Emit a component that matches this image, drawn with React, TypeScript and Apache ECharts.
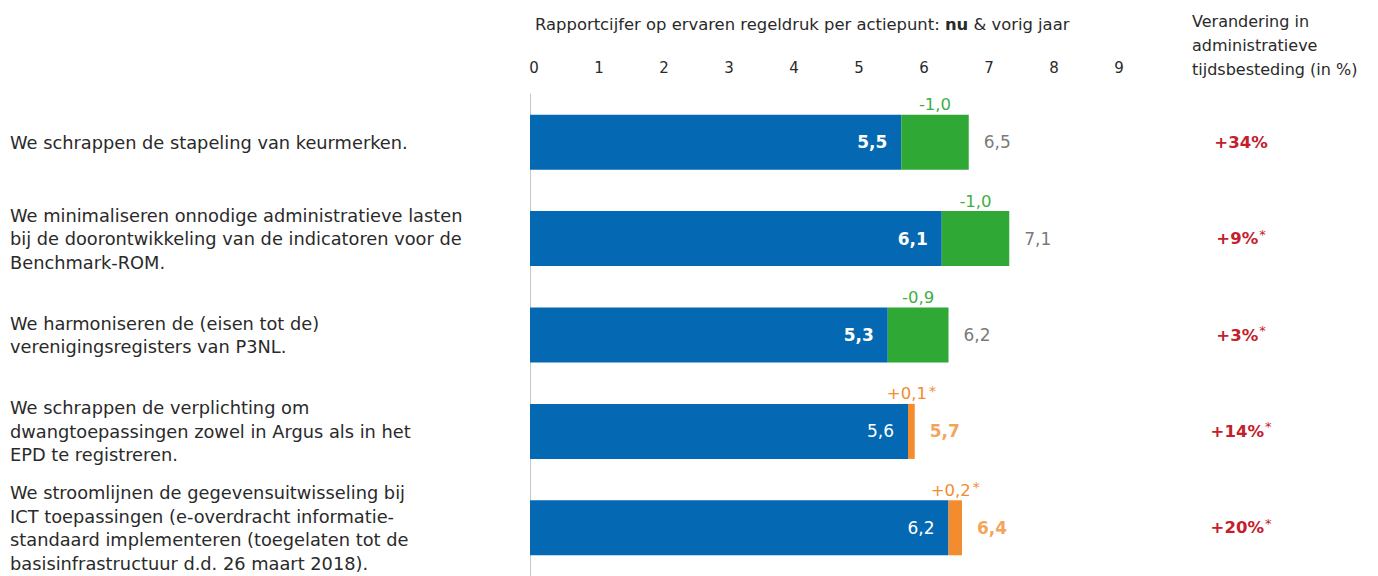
import React, { useEffect, useRef } from "react";
import * as echarts from "echarts";

const categories = [
  "We schrappen de stapeling van keurmerken.",
  "We minimaliseren onnodige administratieve lasten\nbij de doorontwikkeling van de indicatoren voor de\nBenchmark-ROM.",
  "We harmoniseren de (eisen tot de)\nverenigingsregisters van P3NL.",
  "We schrappen de verplichting om\ndwangtoepassingen zowel in Argus als in het\nEPD te registreren.",
  "We stroomlijnen de gegevensuitwisseling bij\nICT toepassingen (e-overdracht informatie-\nstandaard implementeren (toegelaten tot de\nbasisinfrastructuur d.d. 26 maart 2018).",
];
const baseValues = [5.5, 6.1, 5.3, 5.6, 6.2];
const deltaValues = [1.0, 1.0, 0.9, 0.1, 0.2];
const totalValues = [6.5, 7.1, 6.2, 5.7, 6.4];
const deltaLabels = ["-1,0", "-1,0", "-0,9", "+0,1", "+0,2"];
const deltaStar = [false, false, false, true, true];
const improved = [false, false, false, true, true];
const pctLabels = ["+34%", "+9%", "+3%", "+14%", "+20%"];
const pctStar = [false, true, true, true, true];
const tickValues = [0, 1, 2, 3, 4, 5, 6, 7, 8, 9];

const BLUE = "#0469b2";
const GREEN = "#2fa836";
const GREEN_TXT = "#3fae45";
const ORANGE = "#f28c2e";
const RED = "#c3202b";
const GRAY = "#555555";
const DARK = "#2a2a2a";
const FONT = "'DejaVu Sans', 'Liberation Sans', Arial, sans-serif";

const fmt = (v: number) => v.toFixed(1).replace(".", ",");

export default function App() {
  const ref = useRef<HTMLDivElement>(null);
  useEffect(() => {
    if (!ref.current) return;
    const chart = echarts.init(ref.current, undefined, { renderer: "svg" });
    chart.setOption({
      animation: false,
      textStyle: { fontFamily: FONT },
      title: {
        left: 530,
        top: 11,
        text: "{a|Rapportcijfer op ervaren regeldruk per actiepunt: }{b|nu}{a| & vorig jaar}",
        textStyle: {
          fontWeight: "normal",
          rich: {
            a: { fontSize: 16.4, color: DARK, fontWeight: "normal", fontFamily: FONT },
            b: { fontSize: 16.4, color: DARK, fontWeight: "bold", fontFamily: FONT },
          },
        },
      },
      graphic: [
        {
          type: "text",
          left: 1192,
          top: 9,
          style: {
            text: "Verandering in\nadministratieve\ntijdsbesteding (in %)",
            fontSize: 16,
            lineHeight: 24,
            fill: DARK,
            fontFamily: FONT,
          },
        },
      ],
      grid: [
        { left: 530, top: 94, width: 675, height: 484 },
        { left: 534, top: 78, width: 585, height: 1 },
      ],
      xAxis: [
        {
          gridIndex: 0,
          type: "value",
          min: 0,
          max: 10,
          show: false,
        },
        {
          gridIndex: 1,
          type: "value",
          position: "top",
          min: 0,
          max: 9,
          interval: 1,
          axisLine: { show: false },
          axisTick: { show: false },
          splitLine: { show: false },
          axisLabel: {
            margin: 3,
            fontSize: 15,
            color: DARK,
            fontFamily: FONT,
            formatter: (v: number) => (tickValues.includes(v) ? String(v) : ""),
          },
        },
      ],
      yAxis: [
        {
          gridIndex: 0,
          type: "category",
          inverse: true,
          data: categories,
          axisLine: { show: true, lineStyle: { color: "#c8c8c8", width: 1 } },
          axisTick: { show: false },
          axisLabel: {
            align: "left",
            margin: 520,
            fontSize: 17.8,
            lineHeight: 23.5,
            color: DARK,
            fontFamily: FONT,
          },
        },
        {
          gridIndex: 0,
          type: "category",
          inverse: true,
          position: "right",
          data: categories,
          axisLine: { show: false },
          axisTick: { show: false },
          axisLabel: {
            align: "center",
            margin: 36,
            formatter: (_v: string, i: number) =>
              `{p|${pctLabels[i]}}` + (pctStar[i] ? "{s|*}" : ""),
            rich: {
              p: { fontSize: 16.5, fontWeight: "bold", color: RED, fontFamily: FONT, lineHeight: 22 },
              s: { fontSize: 13, color: RED, fontFamily: FONT, verticalAlign: "top", lineHeight: 12, padding: [0, 0, 0, 1] },
            },
          },
        },
        {
          gridIndex: 1,
          type: "value",
          show: false,
        },
      ],
      series: [
        {
          type: "bar",
          stack: "s",
          xAxisIndex: 0,
          yAxisIndex: 0,
          barWidth: 55,
          itemStyle: { color: BLUE },
          data: baseValues.map((v, i) => ({
            value: v,
            label: {
              show: true,
              position: "insideRight",
              distance: 14,
              fontSize: 17,
              color: "#ffffff",
              fontFamily: FONT,
              fontWeight: improved[i] ? "normal" : "bold",
              formatter: fmt(v),
            },
          })),
        },
        {
          type: "bar",
          stack: "s",
          xAxisIndex: 0,
          yAxisIndex: 0,
          barWidth: 55,
          data: deltaValues.map((v, i) => ({
            value: v,
            itemStyle: { color: improved[i] ? ORANGE : GREEN },
            label: {
              show: true,
              position: "top",
              distance: 0,
              formatter: `{t|${deltaLabels[i]}}` + (deltaStar[i] ? "{s|*}" : ""),
              rich: {
                t: { fontSize: 16.5, color: improved[i] ? ORANGE : GREEN_TXT, fontFamily: FONT, lineHeight: 20 },
                s: { fontSize: 14, color: improved[i] ? ORANGE : GREEN_TXT, fontFamily: FONT, verticalAlign: "top", lineHeight: 12, padding: [0, 0, 0, 2] },
              },
            },
          })),
        },
        {
          type: "scatter",
          xAxisIndex: 0,
          yAxisIndex: 0,
          symbolSize: 0,
          silent: true,
          data: totalValues.map((v, i) => ({
            value: [v, i],
            label: {
              show: true,
              position: "right",
              distance: 15,
              fontSize: 17,
              fontFamily: FONT,
              color: improved[i] ? ORANGE : GRAY,
              fontWeight: improved[i] ? "bold" : "normal",
              formatter: fmt(v),
            },
          })),
        },
      ],
    });
    return () => chart.dispose();
  }, []);
  return (
    <div
      ref={ref}
      style={{ position: "absolute", left: 0, top: 0, width: 1378, height: 576, background: "#fff" }}
    />
  );
}
